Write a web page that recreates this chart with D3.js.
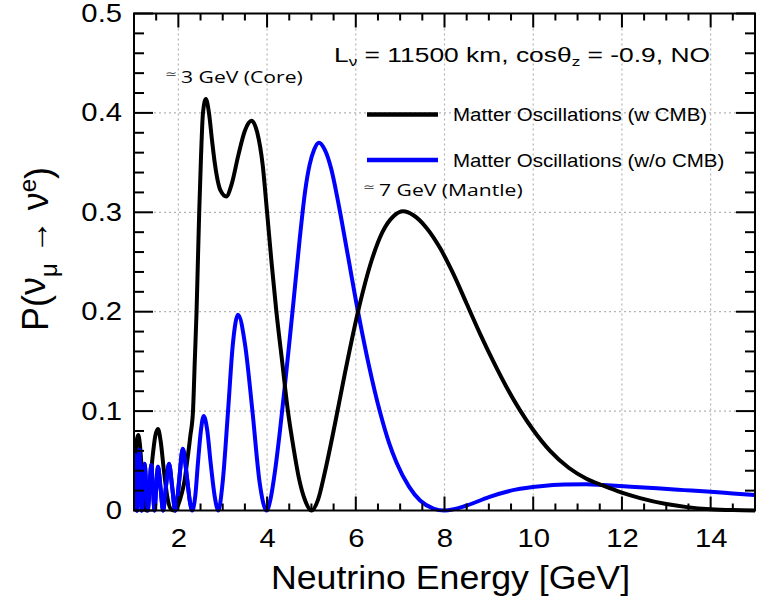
<!DOCTYPE html>
<html>
<head>
<meta charset="utf-8">
<script src="https://cdn.jsdelivr.net/npm/d3@7"></script>
<style>
  body { margin: 0; background: #fff; }
</style>
</head>
<body>
<svg id="chart" width="758" height="600"></svg>
<script>
// nu_mu -> nu_e appearance probability, L = 11500 km, cos(theta_z) = -0.9, normal ordering
const energyWithCMB = [
  1.00, 1.03, 1.06, 1.095, 1.13, 1.17, 1.22, 1.28, 1.34, 1.41, 1.48, 1.54, 1.60, 1.67, 1.75, 1.84,
  1.92, 2.00, 2.07, 2.14, 2.20, 2.27, 2.33, 2.37, 2.41, 2.44, 2.47, 2.51, 2.555, 2.62, 2.69, 2.76,
  2.82, 2.95, 3.08, 3.20, 3.35, 3.50, 3.65, 3.78, 3.90, 4.00, 4.10, 4.21, 4.34, 4.47, 4.60, 4.72,
  4.85, 5.00, 5.15, 5.30, 5.53, 5.75, 6.05, 6.36, 6.60, 6.85, 7.07, 7.30, 7.60, 7.90, 8.20, 8.50,
  8.80, 9.10, 9.40, 9.70, 10.00, 10.38, 10.80, 11.20, 11.58, 12.00, 12.41, 13.00, 13.47, 14.00, 14.50, 15.00
];
const probWithCMB = [
  0.036, 0.055, 0.070, 0.076, 0.068, 0.045, 0.018, 0.000, 0.016, 0.050, 0.075, 0.082, 0.070, 0.042, 0.014, 0.001,
  0.000, 0.006, 0.016, 0.030, 0.050, 0.075, 0.100, 0.150, 0.200, 0.250, 0.300, 0.355, 0.400, 0.414, 0.400, 0.372,
  0.350, 0.322, 0.316, 0.328, 0.357, 0.382, 0.392, 0.380, 0.348, 0.300, 0.250, 0.200, 0.150, 0.100, 0.062, 0.032,
  0.011, 0.000, 0.011, 0.038, 0.087, 0.137, 0.200, 0.252, 0.280, 0.296, 0.301, 0.297, 0.284, 0.264, 0.238, 0.208,
  0.178, 0.150, 0.124, 0.101, 0.081, 0.060, 0.043, 0.032, 0.025, 0.018, 0.0125, 0.0065, 0.0034, 0.0013, 0.0004, 0.0001
];

const energyNoCMB = [
  1.00, 1.02, 1.045, 1.067, 1.09, 1.12, 1.15, 1.177, 1.21, 1.24, 1.275, 1.31, 1.35, 1.39, 1.425, 1.462,
  1.50, 1.54, 1.60, 1.656, 1.72, 1.79, 1.86, 1.93, 1.97, 2.02, 2.10, 2.20, 2.26, 2.31, 2.38, 2.44,
  2.51, 2.57, 2.65, 2.73, 2.82, 2.90, 3.00, 3.12, 3.23, 3.345, 3.50, 3.67, 3.83, 3.99, 4.08, 4.18,
  4.29, 4.40, 4.50, 4.60, 4.74, 4.86, 4.96, 5.06, 5.17, 5.30, 5.45, 5.60, 5.80, 6.05, 6.30, 6.54,
  6.75, 6.92, 7.20, 7.45, 7.75, 8.00, 8.50, 9.00, 9.60, 10.16, 10.70, 11.20, 11.58, 12.20, 12.79, 13.40,
  13.92, 14.50, 15.00
];
const probNoCMB = [
  0.045, 0.056, 0.030, 0.000, 0.030, 0.061, 0.030, 0.000, 0.024, 0.047, 0.024, 0.000, 0.023, 0.046, 0.023, 0.000,
  0.022, 0.044, 0.022, 0.000, 0.024, 0.047, 0.024, 0.000, 0.009, 0.031, 0.062, 0.031, 0.009, 0.000, 0.014, 0.047,
  0.081, 0.095, 0.081, 0.047, 0.014, 0.000, 0.029, 0.100, 0.168, 0.197, 0.168, 0.100, 0.029, 0.000, 0.012, 0.040,
  0.080, 0.125, 0.168, 0.212, 0.275, 0.322, 0.348, 0.363, 0.370, 0.363, 0.343, 0.311, 0.262, 0.200, 0.145, 0.100,
  0.068, 0.048, 0.024, 0.010, 0.002, 0.000, 0.005, 0.0135, 0.021, 0.0245, 0.0262, 0.0265, 0.0257, 0.024, 0.0223, 0.0205,
  0.019, 0.0172, 0.0156
];

const xMajorTicks = [2, 4, 6, 8, 10, 12, 14];
const xTickLabels = ["2", "4", "6", "8", "10", "12", "14"];
const yMajorTicks = [0, 0.1, 0.2, 0.3, 0.4, 0.5];
const yTickLabels = ["0", "0.1", "0.2", "0.3", "0.4", "0.5"];
const legendLabels = ["Matter Oscillations (w CMB)", "Matter Oscillations (w/o CMB)"];
const seriesColors = ["#000000", "#0000ff"];

const svg = d3.select("#chart");
const plotLeft = 134, plotRight = 755, plotTop = 13.5, plotBottom = 510.5;
const sansFont = "'Liberation Sans', Arial, Helvetica, sans-serif";
const noteFont = "'Open Sans', 'Noto Sans', sans-serif";

const x = d3.scaleLinear().domain([1, 15]).range([plotLeft, plotRight]);
const y = d3.scaleLinear().domain([0, 0.5]).range([plotBottom, plotTop]);

const xMinorTicks = d3.range(3, 30).map(i => i * 0.5).filter(v => v % 2 !== 0);
const yMinorTicks = d3.range(1, 25).map(i => +(i * 0.02).toFixed(2)).filter(v => Math.round(v * 100) % 10 !== 0);

// dotted grid at the major ticks
const grid = svg.append("g");
grid.selectAll("line.gx").data(xMajorTicks).join("line").attr("class", "gx")
  .attr("x1", d => x(d)).attr("x2", d => x(d)).attr("y1", plotTop).attr("y2", plotBottom);
grid.selectAll("line.gy").data(yMajorTicks.filter(v => v > 0 && v < 0.5)).join("line").attr("class", "gy")
  .attr("x1", plotLeft).attr("x2", plotRight).attr("y1", d => y(d)).attr("y2", d => y(d));
grid.selectAll("line").attr("stroke", "#b4b4b4").attr("stroke-width", 1.2).attr("stroke-dasharray", "2,3");

// curves
svg.append("clipPath").attr("id", "plotClip").append("rect")
  .attr("x", plotLeft).attr("y", plotTop).attr("width", plotRight - plotLeft).attr("height", plotBottom - plotTop + 3);

const line = d3.line().x(d => x(d[0])).y(d => y(d[1])).curve(d3.curveMonotoneX);
const series = [
  d3.zip(energyWithCMB, probWithCMB),
  d3.zip(energyNoCMB, probNoCMB)
];
const curves = svg.append("g").attr("clip-path", "url(#plotClip)")
  .attr("fill", "none").attr("stroke-width", 4).attr("stroke-linejoin", "round");
curves.append("path").datum(series[1]).attr("d", line).attr("stroke", seriesColors[1]);
curves.append("path").datum(series[0]).attr("d", line).attr("stroke", seriesColors[0]);
// the no-CMB curve sits over the CMB curve in the fast-oscillation region
curves.append("path").datum(series[1].filter(d => d[0] <= 2.35)).attr("d", line).attr("stroke", seriesColors[1]);

// tick labels (slightly widened lettering)
const LX = 1.17;
function styleLabels(g) {
  g.select(".domain").remove();
  g.selectAll(".tick line").remove();
  g.selectAll("text").attr("font-family", sansFont).attr("font-size", 25).attr("fill", "#000")
    .attr("transform", `scale(${LX},1)`);
}
svg.append("g").attr("transform", `translate(0,${plotBottom})`)
  .call(d3.axisBottom(x).tickValues(xMajorTicks).tickSize(0).tickPadding(19)
    .tickFormat((d, i) => xTickLabels[i]))
  .call(styleLabels);
svg.append("g").attr("transform", `translate(${plotLeft},0)`)
  .call(d3.axisLeft(y).tickValues(yMajorTicks).tickSize(0).tickPadding(12 / LX)
    .tickFormat((d, i) => yTickLabels[i]))
  .call(styleLabels);

// frame
svg.append("rect").attr("x", plotLeft).attr("y", plotTop)
  .attr("width", plotRight - plotLeft).attr("height", plotBottom - plotTop)
  .attr("fill", "none").attr("stroke", "#000").attr("stroke-width", 2);

// inward tick marks on all four sides, drawn as thin filled bars
const TW = 2;
const tickLayer = svg.append("g").attr("fill", "#000");
function xTicks(values, len) {
  tickLayer.append("g").selectAll("rect").data(values).join("rect")
    .attr("x", d => x(d) - TW / 2).attr("y", plotBottom - len).attr("width", TW).attr("height", len);
  tickLayer.append("g").selectAll("rect").data(values).join("rect")
    .attr("x", d => x(d) - TW / 2).attr("y", plotTop).attr("width", TW).attr("height", len);
}
function yTicks(values, len) {
  tickLayer.append("g").selectAll("rect").data(values).join("rect")
    .attr("x", plotLeft).attr("y", d => y(d) - TW / 2).attr("width", len).attr("height", TW);
  tickLayer.append("g").selectAll("rect").data(values).join("rect")
    .attr("x", plotRight - len).attr("y", d => y(d) - TW / 2).attr("width", len).attr("height", TW);
}
xTicks(xMinorTicks, 7);
xTicks(xMajorTicks, 14);
yTicks(yMinorTicks, 10);
yTicks(yMajorTicks, 19);

// axis titles
svg.append("text")
  .attr("transform", `translate(${(plotLeft + plotRight) / 2 + 6},589) scale(1.05,1)`)
  .attr("text-anchor", "middle").attr("font-family", sansFont).attr("font-size", 34)
  .text("Neutrino Energy [GeV]");

const yTitle = svg.append("text")
  .attr("transform", "translate(48,331) rotate(-90)")
  .attr("font-family", sansFont).attr("font-size", 36);
yTitle.append("tspan").text("P(");
yTitle.append("tspan").attr("font-size", 36).attr("dy", -3).text("ν");
yTitle.append("tspan").attr("font-size", 24).attr("dy", 12).text("μ");
yTitle.append("tspan").attr("font-size", 34).attr("font-weight", "bold").attr("dy", -9).text(" → ");
yTitle.append("tspan").attr("font-size", 36).attr("dy", 0).text("ν");
yTitle.append("tspan").attr("font-size", 24).attr("dy", -12).text("e");
yTitle.append("tspan").attr("font-size", 36).attr("dy", 15).text(")");

// parameter line
const params = svg.append("text")
  .attr("transform", "translate(334,62) scale(1.32,1)")
  .attr("font-family", sansFont).attr("font-size", 20);
params.append("tspan").text("L");
params.append("tspan").attr("font-size", 13).attr("dy", 4).text("ν");
params.append("tspan").attr("dy", -4).text(" = 11500 km, cosθ");
params.append("tspan").attr("font-size", 13).attr("dy", 4).text("z");
params.append("tspan").attr("dy", -4).text(" = -0.9, NO");

// legend
const legendRows = [114.5, 160];
legendRows.forEach((ly, i) => {
  svg.append("line").attr("x1", 367).attr("x2", 438).attr("y1", ly).attr("y2", ly)
    .attr("stroke", seriesColors[i]).attr("stroke-width", 4.5);
  svg.append("text")
    .attr("transform", `translate(453,${ly + 6.5}) scale(1.14,1)`)
    .attr("font-family", sansFont).attr("font-size", 18)
    .text(legendLabels[i]);
});

// peak notes
function note(xp, yp, label) {
  svg.append("text")
    .attr("transform", `translate(${xp},${yp - 5}) scale(1.2,1)`)
    .attr("font-family", sansFont).attr("font-size", 12).attr("fill", "#555").text("≃");
  svg.append("text")
    .attr("transform", `translate(${xp + 16},${yp}) scale(1.28,1)`)
    .attr("font-family", noteFont).attr("font-size", 16.5).text(label);
}
note(165, 83, "3 GeV (Core)");
note(363, 196, "7 GeV (Mantle)");
</script>
</body>
</html>
